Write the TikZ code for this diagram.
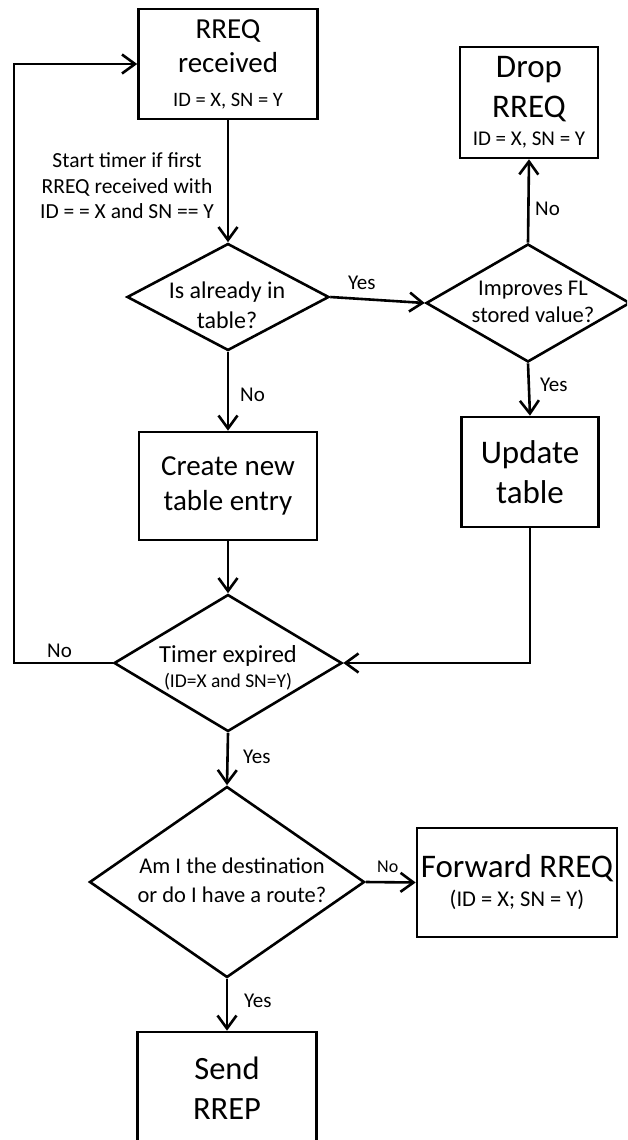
\documentclass[tikz,border=0pt]{standalone}
\usepackage{fontspec}
\setmainfont{Carlito}
\usetikzlibrary{shapes.geometric,arrows.meta}
\newcommand{\fs}[2]{\fontsize{#1}{#2}\selectfont}
\tikzset{
  box/.style={draw,line width=2.6pt,align=center,inner sep=0pt},
  decision/.style={draw,diamond,line width=2.6pt,inner sep=0pt},
  dtext/.style={align=center,inner sep=0pt},
  lbl/.style={font=\fs{21}{24},inner sep=0pt,anchor=base west},
  flow/.style={line width=2.6pt,-{Straight Barb[length=13pt,width=19pt]}}
}
\begin{document}
\begin{tikzpicture}[x=1pt,y=-1pt]
\path[use as bounding box] (0,0) rectangle (627,1140);
\clip (0,0) rectangle (627,1140);

% the process boxes
\node[box,minimum width=179pt,minimum height=110pt,font=\fs{29}{34}] (rreq) at (228,64) {RREQ\\received\\{\fs{20.5}{24}ID = X, SN = Y}};
\node[box,minimum width=138pt,minimum height=111pt,font=\fs{33}{40}] (drop) at (529,102.5) {Drop\\RREQ\\[-12pt]{\fs{21}{24}ID = X, SN = Y}};
\node[box,minimum width=178pt,minimum height=108pt,font=\fs{29}{35}] (create) at (228,486) {Create new\\table entry};
\node[box,minimum width=137pt,minimum height=110pt,font=\fs{33}{40}] (update) at (530,472) {Update\\table};
\node[box,minimum width=200pt,minimum height=109pt,font=\fs{33}{40}] (fwd) at (517,882.5) {Forward RREQ\\[-11pt]{\fs{22.5}{26}(ID = X; SN = Y)}};
\node[box,minimum width=179pt,minimum height=112pt,font=\fs{32.5}{40}] (send) at (227,1088) {Send\\RREP};

% the decisions, text set on top
\node[decision,minimum width=202pt,minimum height=107pt] (dec1) at (228,297) {};
\node[decision,minimum width=204pt,minimum height=118pt] (dec2) at (528,303) {};
\node[decision,minimum width=228pt,minimum height=137pt] (timer) at (228,663) {};
\node[decision,minimum width=275pt,minimum height=191pt] (dest) at (227,882) {};

\node[dtext,font=\fs{24}{30}] (dec1txt) at (227,305) {Is already in\\table?};
\node[dtext,font=\fs{22.5}{27}] (dec2txt) at (533,302) {Improves FL\\stored value?};
\node[dtext,font=\fs{24.5}{25}] (timertxt) at (228,668) {Timer expired\\{\fs{19.5}{22}(ID=X and SN=Y)}};
\node[dtext,font=\fs{22.5}{29}] (desttxt) at (232,880) {Am I the destination\\or do I have a route?};
\node[dtext,font=\fs{21.5}{25.5}] (note) at (127,186) {Start timer if first\\RREQ received with\\ID = = X and SN == Y};

% arrows down the main column
\foreach \a/\b in {rreq/dec1,dec1/create,create/timer,timer/dest,dest/send}
  \draw[flow] (\a.south) -- (\b.north);

\draw[flow] (dec1.east) -- (dec2.west);
\draw[flow] (dec2.north) -- (drop.south);
\draw[flow] (dec2.south) -- (update.north);
\draw[flow] (update.south) |- (timer.east);
\draw[flow] (dest.east) -- (fwd.west);

% loop back when the timer has not expired
\coordinate (loop) at (14,663);
\draw[flow] (timer.west) -- (loop) |- (rreq.west);

% yes / no labels
\node[lbl] (yes1) at (348,289) {Yes};
\node[lbl] (no1) at (535,215) {No};
\node[lbl] (yes2) at (540,391) {Yes};
\node[lbl] (no2) at (240,401) {No};
\node[lbl] (no3) at (47,657) {No};
\node[lbl] (yes3) at (243,763) {Yes};
\node[lbl,font=\fs{18}{20}] (no4) at (377,872) {No};
\node[lbl] (yes4) at (244,1007) {Yes};

\end{tikzpicture}
\end{document}
